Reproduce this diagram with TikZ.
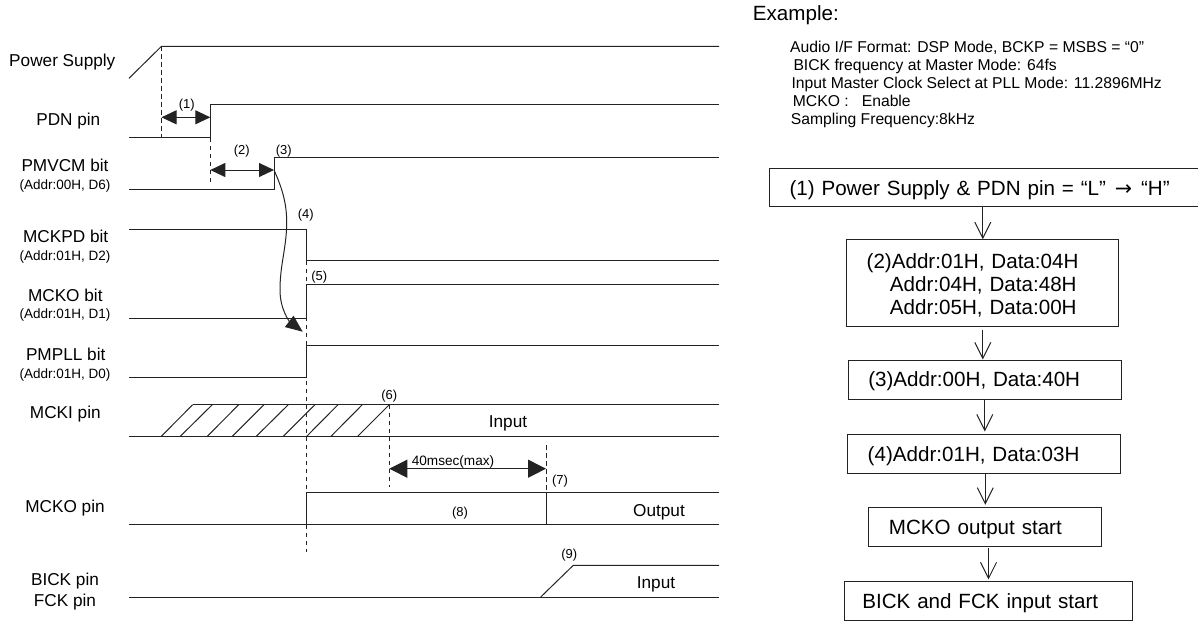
\documentclass[tikz,border=0pt]{standalone}
\usepackage{fontspec}
\setmainfont{Liberation Sans}
\newfontfamily\arrowfont{DejaVu Sans}
\usepackage{xcolor}
\usetikzlibrary{arrows.meta}
\definecolor{wireblack}{RGB}{35,35,35}

\begin{document}
\begin{tikzpicture}[
    x=1pt, y=-1pt,
    every node/.style={inner sep=0pt, text=black},
    sig lab/.style={anchor=base, font=\fontsize{17.2}{18}\selectfont},
    addr lab/.style={anchor=base, font=\fontsize{13.5}{14}\selectfont},
    step lab/.style={anchor=base, font=\fontsize{13}{14}\selectfont},
    info lab/.style={anchor=base west, font=\fontsize{15.7}{18}\selectfont},
    flow box/.style={draw=wireblack, line width=1pt, align=left, anchor=center,
                     inner xsep=20pt, text height=19pt, font=\fontsize{20.6}{23.3}\selectfont},
    wave/.style={draw=wireblack, line width=1pt},
    guide/.style={draw=wireblack, line width=1pt, dash pattern=on 4.5pt off 3.5pt},
    dim arr/.style={wireblack, line width=1pt,
                    {Triangle[length=15pt,width=14pt]}-{Triangle[length=15pt,width=14pt]}},
    long arr/.style={wireblack, line width=1pt,
                     {Triangle[length=18pt,width=18pt]}-{Triangle[length=18pt,width=18pt]}},
    flow arr/.style={wireblack, line width=1pt, -{Straight Barb[length=16pt,width=16pt]}},
  ]
  \useasboundingbox (0,0) rectangle (1198,621);

  % ============ SIGNAL NAMES ============
  \node[sig lab] (lblpower) at (62.3, 66.7) {Power Supply};
  \node[sig lab] (lblpdn) at (68.3, 125) {PDN pin};
  \node[sig lab] (lblpmvcm) at (65, 171.7) {PMVCM bit};
  \node[addr lab] (adrpmvcm) at (65, 189.3) {(Addr:00H, D6)};
  \node[sig lab] (lblmckpd) at (65.7, 242.7) {MCKPD bit};
  \node[addr lab] (adrmckpd) at (65, 260.7) {(Addr:01H, D2)};
  \node[sig lab] (lblmckob) at (65.3, 301.3) {MCKO bit};
  \node[addr lab] (adrmckob) at (65, 318) {(Addr:01H, D1)};
  \node[sig lab] (lblpmpll) at (65.7, 360) {PMPLL bit};
  \node[addr lab] (adrpmpll) at (65, 378.3) {(Addr:01H, D0)};
  \node[sig lab] (lblmcki) at (65.3, 418.3) {MCKI pin};
  \node[sig lab] (lblmckop) at (65, 512.7) {MCKO pin};
  \node[sig lab] (lblbick) at (65, 585) {BICK pin};
  \node[sig lab] (lblfck) at (65, 606.7) {FCK pin};

  % ============ WAVEFORMS ============
  \draw[wave] (129, 78.3) -- (161.5, 46.3) -- (719, 46.3);
  \draw[wave] (129, 137.7) -- (210.3, 137.7) -- (210.3, 104) -- (719, 104);
  \draw[wave] (129, 189) -- (274, 189) -- (274, 157) -- (719, 157);
  \draw[wave] (129, 229) -- (306.7, 229) -- (306.7, 260.7) -- (719, 260.7);
  \draw[wave] (129, 318) -- (306.7, 318) -- (306.7, 284.7) -- (719, 284.7);
  \draw[wave] (129, 377.7) -- (306.7, 377.7) -- (306.7, 345.3) -- (719, 345.3);

  % MCKI pin, hatched until the clock is valid
  \draw[wave] (192.7, 404.7) -- (719, 404.7);
  \draw[wave] (129, 436.3) -- (719, 436.3);
  \foreach \xlow/\xhigh in {161.3/192.7, 180.3/212.3, 207.3/238.7, 232.3/264, 256.3/288.3,
                            283.3/315, 306.7/338, 331/362.3, 357.7/389.3}
    \draw[wave] (\xlow, 436.3) -- (\xhigh, 404.7);

  \draw[wave] (306.7, 524) -- (306.7, 492.7) -- (719, 492.7);
  \draw[wave] (129, 524) -- (719, 524);
  \draw[wave] (546, 492.7) -- (546, 524);
  \draw[wave] (129, 597) -- (719, 597);
  \draw[wave] (540.7, 597) -- (573.3, 565.3) -- (719, 565.3);

  % ============ GUIDES ============
  \draw[guide] (161.5, 46.3) -- (161.5, 137.7);
  \draw[guide] (210.3, 137.7) -- (210.3, 185);
  \draw[guide] (306.7, 260.7) -- (306.7, 552);
  \draw[guide] (389.3, 404.7) -- (389.3, 486.7);
  \draw[guide] (546, 445) -- (546, 492.7);

  % ============ TIMING ARROWS ============
  \coordinate (pwrup) at (161.5, 117.3);
  \coordinate (pdnup) at (210.3, 117.3);
  \coordinate (pdnfall) at (210.3, 170);
  \coordinate (vcmup) at (274, 170);
  \coordinate (clkok) at (389.3, 468.7);
  \coordinate (clkout) at (546, 468.7);
  \coordinate (pllon) at (302.7, 331.7);

  \draw[dim arr] (pwrup) -- (pdnup);
  \draw[dim arr] (pdnfall) -- (vcmup);
  \draw[long arr] (clkok) -- (clkout);
  \draw[wireblack, line width=1pt, -{Triangle[length=17pt,width=14pt]}]
    (vcmup) .. controls (283, 190) and (287, 205) .. (286.7, 225)
    .. controls (286, 250) and (280, 265) .. (280, 290)
    .. controls (280, 310) and (290, 322) .. (pllon);

  % ============ STEP NUMBERS ============
  \node[step lab] (stepa) at (186.7, 108) {(1)};
  \node[step lab] (stepb) at (241.7, 154.3) {(2)};
  \node[step lab] (stepc) at (283.7, 154.3) {(3)};
  \node[step lab] (stepd) at (305.7, 218.3) {(4)};
  \node[step lab] (stepe) at (319.3, 280.7) {(5)};
  \node[step lab] (stepf) at (389.3, 399.3) {(6)};
  \node[step lab] (stepg) at (560, 484) {(7)};
  \node[step lab] (steph) at (460, 516.7) {(8)};
  \node[step lab] (stepi) at (569.3, 558.3) {(9)};
  \node[step lab, font=\fontsize{13.6}{14}\selectfont] (maxtime) at (453, 465) {40msec(max)};

  \node[sig lab] (sigina) at (508, 427.3) {Input};
  \node[sig lab] (sigout) at (659, 516) {Output};
  \node[sig lab] (siginb) at (656, 588.3) {Input};

  % ============ EXAMPLE TEXT ============
  \node[anchor=base west, font=\fontsize{20.6}{23}\selectfont] (extitle) at (752.7, 20.7) {Example:};
  \node[info lab] (infoa) at (790, 52) {Audio I/F Format: DSP Mode, BCKP = MSBS = “0”};
  \node[info lab] (infob) at (793.3, 70) {BICK frequency at Master Mode: 64fs};
  \node[info lab] (infoc) at (791.3, 88) {Input Master Clock Select at PLL Mode: 11.2896MHz};
  \node[info lab] (infod) at (792.7, 106) {MCKO :\ \ \ Enable};
  \node[info lab] (infoe) at (790.7, 124) {Sampling Frequency:8kHz};

  % ============ FLOW ============
  \node[flow box, minimum width=430pt, text width=390pt, minimum height=38.5pt] (power) at (984.5, 187.7)
    {(1) Power Supply \& PDN pin = “L”\hspace{2pt} {\arrowfont →}\hspace{2pt} “H”};
  \node[flow box, minimum width=272.3pt, text width=232.3pt, minimum height=87pt] (regs) at (982.8, 283.2)
    {(2)Addr:01H, Data:04H\\
     \hspace*{23.3pt}Addr:04H, Data:48H\\
     \hspace*{23.3pt}Addr:05H, Data:00H};
  \node[flow box, minimum width=273pt, text width=233pt, minimum height=39pt] (vcm) at (984.8, 379.5)
    {(3)Addr:00H, Data:40H};
  \node[flow box, minimum width=272.6pt, text width=232.6pt, minimum height=39.3pt] (pll) at (984, 453.7)
    {(4)Addr:01H, Data:03H};
  \node[flow box, minimum width=232.7pt, text width=192.7pt, minimum height=39pt] (mcko) at (985.3, 526.8)
    {MCKO output start};
  \node[flow box, inner xsep=17.6pt, minimum width=287.6pt, text width=252.4pt, minimum height=38.7pt] (bick) at (988.5, 601.3)
    {BICK and FCK input start};

  \draw[flow arr] (power.south -| regs.north) -- (regs.north);
  \draw[flow arr, shorten <=2.5pt] (regs.south) -- (regs.south |- vcm.north);
  \draw[flow arr, shorten >=2pt] (vcm.north |- vcm.south) -- (vcm.north |- pll.north);
  \draw[flow arr, shorten >=2pt] (pll.south -| mcko.north) -- (mcko.north);
  \draw[flow arr, shorten <=1.5pt, shorten >=2pt] (mcko.south -| bick.north) -- (bick.north);

\end{tikzpicture}
\end{document}
